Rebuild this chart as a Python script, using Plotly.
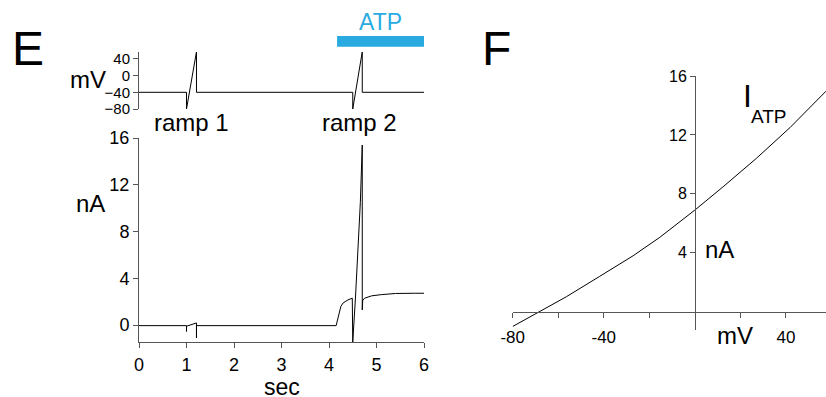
import plotly.graph_objects as go

# ---- data ----
# Panel E top: command voltage (mV) vs time (s)
v_time = [0, 1.0, 1.0, 1.21, 1.21, 4.5, 4.5, 4.7, 4.7, 6.0]
v_mv = [-40, -40, -80, 57, -40, -40, -80, 57, -40, -40]

# Panel E bottom: current (nA) vs time (s)
i_time = [0, 1.0, 1.0, 1.0, 1.21, 1.21, 1.21, 4.15, 4.17, 4.2, 4.25, 4.3, 4.4, 4.49,
          4.5, 4.558, 4.617, 4.66, 4.7, 4.7, 4.71, 4.75, 4.9, 5.1, 5.4, 5.8, 6.0]
i_na = [-0.05, -0.05, -0.55, -0.1, 0.18, -1.1, -0.05, -0.05, 0.3, 1.0, 1.6, 1.9, 2.15, 2.3,
        -1.45, 2.4, 6.9, 10.5, 15.4, 1.3, 2.1, 2.3, 2.5, 2.6, 2.7, 2.72, 2.72]

# ATP application window (s)
atp_on = [4.17, 6.0]

# Panel F: I-V relation of I_ATP
iv_mv = [-80, -68.1, -56.4, -41.8, -27.1, -15.4, -5.1, 0, 12.4, 27.1, 41.8, 57.6]
iv_na = [-1.0, 0, 1.02, 2.4, 3.8, 5.05, 6.28, 6.9, 8.48, 10.42, 12.5, 14.97]

# tick labels
e_time_ticks = [0, 1, 2, 3, 4, 5, 6]
e_i_ticks = [0, 4, 8, 12, 16]
e_v_ticks = [40, 0, -40, -80]
f_x_ticks = [-80, -60, -40, -20, 20, 40]
f_x_text = ["-80", "", "-40", "", "", "40"]
f_y_ticks = [4, 8, 12, 16]

W, H = 826, 397
FONT = "Liberation Sans, Arial, Helvetica, sans-serif"
AX = "#555555"
ATP_COLOR = "#29abe2"


def px(x):
    return x / W


def py(y):
    return 1 - y / H


fig = go.Figure()
fig.add_trace(go.Scatter(x=i_time, y=i_na, mode="lines", line=dict(color="black", width=1),
                         xaxis="x", yaxis="y", showlegend=False))
fig.add_trace(go.Scatter(x=v_time, y=v_mv, mode="lines", line=dict(color="black", width=1),
                         xaxis="x2", yaxis="y2", showlegend=False))
fig.add_trace(go.Scatter(x=iv_mv, y=iv_na, mode="lines", line=dict(color="black", width=1),
                         xaxis="x3", yaxis="y3", showlegend=False))

common = dict(showgrid=False, zeroline=False, showline=True, linecolor=AX, linewidth=1,
              ticks="outside", ticklen=5, tickcolor=AX, tickwidth=1, automargin=False)

fig.update_layout(
    width=W, height=H, margin=dict(l=0, r=0, t=0, b=0),
    paper_bgcolor="white", plot_bgcolor="rgba(0,0,0,0)",
    font=dict(family=FONT, color="black"),
    xaxis=dict(domain=[px(139), px(424)], range=[0, 6], anchor="y",
               tickvals=e_time_ticks, tickfont=dict(size=18), ticklabelstandoff=1, **common),
    yaxis=dict(domain=[py(342), py(138)], range=[-1.45, 16], anchor="x",
               tickvals=e_i_ticks, tickfont=dict(size=18), **common),
    xaxis2=dict(domain=[px(139), px(424)], range=[0, 6], anchor="y2", visible=False,
                automargin=False),
    yaxis2=dict(domain=[py(109), py(52)], range=[-80, 56.5], anchor="x2",
                tickvals=e_v_ticks, tickfont=dict(size=15), **common),
    xaxis3=dict(domain=[px(512.7), 1.0], range=[-80, 57.6], anchor="free",
                position=py(311.7), tickvals=f_x_ticks, ticktext=f_x_text,
                tickfont=dict(size=17), ticklabelstandoff=5, **common),
    yaxis3=dict(domain=[py(330), py(76)], range=[-1.24, 16], anchor="free",
                position=px(695), tickvals=f_y_ticks, tickfont=dict(size=16), **common),
)

# ATP bar
fig.add_shape(type="rect", xref="x", yref="paper", x0=atp_on[0], x1=atp_on[1],
              y0=py(46.7), y1=py(36), fillcolor=ATP_COLOR, line=dict(width=0))


def ann(text, x, y, size, xanchor="center", color="black", yanchor="middle", yshift=0):
    fig.add_annotation(text=text, xref="paper", yref="paper", x=px(x), y=py(y),
                       xanchor=xanchor, yanchor=yanchor, showarrow=False, yshift=yshift,
                       font=dict(size=size, color=color, family=FONT))


ann("ATP", 380, 22, 23, color=ATP_COLOR)
ann("E", 10, 49, 48, xanchor="left")
ann("F", 480, 49, 48, xanchor="left")
ann("mV", 87.5, 80, 24)
ann("ramp 1", 191.5, 123, 24)
ann("ramp 2", 359, 123, 24)
ann("nA", 90.5, 203, 24)
ann("sec", 282, 397, 23, yanchor="bottom", yshift=-5)
ann("nA", 719, 250, 24)
ann("mV", 734.5, 335, 24)
ann("I", 741, 96.5, 32, xanchor="left")
ann("ATP", 749, 116.5, 19, xanchor="left")

fig.write_html("out.html")
